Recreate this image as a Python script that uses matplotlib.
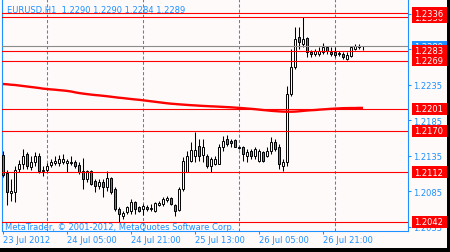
import matplotlib
matplotlib.use('Agg')
import matplotlib.pyplot as plt
from matplotlib.patches import Rectangle
import numpy as np

# ---------------- data ----------------
opens = [1.2136, 1.2111, 1.2083, 1.2084, 1.2117, 1.2124, 1.2138, 1.2119, 1.2126, 1.2135,
         1.2115, 1.2115, 1.2122, 1.2125, 1.2125, 1.2126, 1.2125, 1.2126, 1.2126, 1.2122,
         1.2114, 1.2102, 1.2114, 1.2100, 1.2093, 1.2098, 1.2091, 1.2104, 1.2088, 1.2060,
         1.2050, 1.2056, 1.2057, 1.2070, 1.2063, 1.2060, 1.2063, 1.2060, 1.2057, 1.2066,
         1.2067, 1.2073, 1.2076, 1.2066, 1.2059, 1.2088, 1.2112, 1.2128, 1.2135, 1.2149,
         1.2136, 1.2135, 1.2121, 1.2124, 1.2124, 1.2147, 1.2159, 1.2156, 1.2157, 1.2147,
         1.2147, 1.2135, 1.2142, 1.2135, 1.2128, 1.2140, 1.2135, 1.2142, 1.2155, 1.2147,
         1.2121, 1.2126, 1.2222, 1.2260, 1.2302, 1.2292, 1.2301, 1.2281, 1.2278, 1.2278,
         1.2281, 1.2288, 1.2281, 1.2281, 1.2280, 1.2278, 1.2271, 1.2276, 1.2285, 1.2288,
         1.2290]
highs = [1.2142, 1.2115, 1.2102, 1.2121, 1.2129, 1.2145, 1.2140, 1.2135, 1.2140, 1.2139,
         1.2121, 1.2125, 1.2131, 1.2135, 1.2136, 1.2138, 1.2131, 1.2135, 1.2129, 1.2126,
         1.2132, 1.2115, 1.2115, 1.2102, 1.2102, 1.2102, 1.2114, 1.2105, 1.2091, 1.2063,
         1.2057, 1.2064, 1.2074, 1.2071, 1.2064, 1.2067, 1.2066, 1.2067, 1.2070, 1.2071,
         1.2077, 1.2079, 1.2077, 1.2067, 1.2091, 1.2133, 1.2142, 1.2155, 1.2169, 1.2159,
         1.2159, 1.2138, 1.2133, 1.2135, 1.2152, 1.2163, 1.2164, 1.2159, 1.2159, 1.2149,
         1.2149, 1.2145, 1.2145, 1.2147, 1.2145, 1.2142, 1.2147, 1.2162, 1.2159, 1.2152,
         1.2131, 1.2233, 1.2285, 1.2316, 1.2316, 1.2330, 1.2302, 1.2284, 1.2285, 1.2288,
         1.2294, 1.2290, 1.2288, 1.2288, 1.2283, 1.2281, 1.2281, 1.2290, 1.2292, 1.2292,
         1.2290]
lows = [1.2105, 1.2066, 1.2071, 1.2070, 1.2112, 1.2117, 1.2117, 1.2115, 1.2121, 1.2111,
        1.2107, 1.2112, 1.2119, 1.2122, 1.2121, 1.2124, 1.2112, 1.2122, 1.2118, 1.2109,
        1.2088, 1.2098, 1.2094, 1.2084, 1.2088, 1.2077, 1.2086, 1.2081, 1.2057, 1.2042,
        1.2046, 1.2053, 1.2053, 1.2053, 1.2056, 1.2052, 1.2057, 1.2057, 1.2056, 1.2064,
        1.2064, 1.2070, 1.2066, 1.2050, 1.2057, 1.2086, 1.2112, 1.2126, 1.2126, 1.2128,
        1.2126, 1.2118, 1.2112, 1.2122, 1.2124, 1.2142, 1.2149, 1.2147, 1.2147, 1.2145,
        1.2128, 1.2126, 1.2131, 1.2131, 1.2126, 1.2126, 1.2133, 1.2138, 1.2142, 1.2117,
        1.2114, 1.2121, 1.2219, 1.2257, 1.2285, 1.2288, 1.2274, 1.2274, 1.2276, 1.2276,
        1.2278, 1.2278, 1.2276, 1.2274, 1.2276, 1.2271, 1.2270, 1.2274, 1.2284, 1.2285,
        1.2284]
closes = [1.2108, 1.2084, 1.2086, 1.2115, 1.2124, 1.2135, 1.2121, 1.2126, 1.2135, 1.2114,
          1.2114, 1.2121, 1.2126, 1.2128, 1.2131, 1.2131, 1.2128, 1.2125, 1.2121, 1.2112,
          1.2102, 1.2114, 1.2095, 1.2093, 1.2098, 1.2091, 1.2104, 1.2084, 1.2060, 1.2053,
          1.2055, 1.2063, 1.2070, 1.2060, 1.2057, 1.2064, 1.2060, 1.2062, 1.2069, 1.2069,
          1.2074, 1.2076, 1.2067, 1.2057, 1.2088, 1.2128, 1.2135, 1.2143, 1.2143, 1.2135,
          1.2147, 1.2121, 1.2131, 1.2131, 1.2147, 1.2156, 1.2152, 1.2153, 1.2147, 1.2146,
          1.2138, 1.2140, 1.2135, 1.2145, 1.2142, 1.2128, 1.2142, 1.2155, 1.2145, 1.2124,
          1.2126, 1.2222, 1.2260, 1.2299, 1.2295, 1.2299, 1.2281, 1.2278, 1.2283, 1.2283,
          1.2288, 1.2283, 1.2278, 1.2277, 1.2278, 1.2274, 1.2277, 1.2288, 1.2290, 1.2290,
          1.2289]
ma_values = [1.22361, 1.22357, 1.22351, 1.22347, 1.22340, 1.22333, 1.22326, 1.22319, 1.22312, 1.22305,
             1.22296, 1.22291, 1.22285, 1.22281, 1.22275, 1.22270, 1.22264, 1.22256, 1.22244, 1.22234,
             1.22226, 1.22219, 1.22212, 1.22206, 1.22201, 1.22195, 1.22189, 1.22182, 1.22175, 1.22168,
             1.22163, 1.22156, 1.22150, 1.22144, 1.22139, 1.22132, 1.22125, 1.22118, 1.22111, 1.22104,
             1.22097, 1.22090, 1.22084, 1.22080, 1.22075, 1.22071, 1.22067, 1.22063, 1.22060, 1.22056,
             1.22053, 1.22050, 1.22047, 1.22045, 1.22042, 1.22039, 1.22036, 1.22033, 1.22029, 1.22025,
             1.22021, 1.22016, 1.22012, 1.22007, 1.22001, 1.21995, 1.21990, 1.21984, 1.21980, 1.21976,
             1.21973, 1.21971, 1.21971, 1.21973, 1.21977, 1.21983, 1.21988, 1.21992, 1.21995, 1.22000,
             1.22004, 1.22008, 1.22012, 1.22015, 1.22018, 1.22021, 1.22022, 1.22023, 1.22023, 1.22025,
             1.22025]
red_levels = [1.2330, 1.2336, 1.2283, 1.2269, 1.2201, 1.2170, 1.2112, 1.2042]
bid_level = 1.2289
price_ticks = [1.2035, 1.2085, 1.2135, 1.2185, 1.2235, 1.2285, 1.2335]
price_tick_labels = ['1.2035', '1.2085', '1.2135', '1.2185', '1.2235', '', '']
time_tick_bars = [0, 16, 32, 48, 64, 80]
time_tick_labels = ['23 Jul 2012', '24 Jul 05:00', '24 Jul 21:00',
                    '25 Jul 13:00', '26 Jul 05:00', '26 Jul 21:00']
day_separator_bars = [11, 35, 59, 83]
title_text = 'EURUSD,H1  1.2290 1.2290 1.2284 1.2289'
copyright_text = 'MetaTrader, \u00a9 2001-2012, MetaQuotes Software Corp.'

# ---------------- style ----------------
BG = '#FFFAFA'
BLUE = '#1E90FF'
RED = '#FF0000'
GRAY = '#8C8C8C'
W, H = 450, 253
plt.rcParams['font.family'] = ['DejaVu Sans']
FS = 6

fig = plt.figure(figsize=(W / 100, H / 100), dpi=100, facecolor=BG)
ax = fig.add_axes([2 / W, (H - 232) / H, 406 / W, 232 / H])
ax.set_facecolor(BG)
ax.set_xlim(-0.25, 101.25)
ax.set_ylim(1.20293, 1.23557)

# spines
for s in ['left', 'right', 'bottom']:
    ax.spines[s].set_color(BLUE)
    ax.spines[s].set_linewidth(0.8)
ax.spines['top'].set_visible(False)

# day separators
for b in day_separator_bars:
    ax.axvline(b, color=BLUE, lw=0.75, ls=(0, (3, 2)), zorder=1)

# candles
x = np.arange(len(opens))
o = np.array(opens)
c = np.array(closes)
up = c >= o
ax.vlines(x, lows, highs, color='black', lw=0.75, zorder=3)
ax.bar(x[up], (c - o)[up], bottom=o[up], width=0.55, color=BG,
       edgecolor='black', lw=0.7, zorder=4)
ax.bar(x[~up], (o - c)[~up], bottom=c[~up], width=0.55, color=BLUE,
       edgecolor='black', lw=0.7, zorder=4)

# moving average
ax.plot(x, ma_values, color=RED, lw=1.7, zorder=5, solid_capstyle='butt')

# horizontal levels
ax.axhline(bid_level, color=GRAY, lw=0.8, zorder=6)
for v in red_levels:
    ax.axhline(v, color=RED, lw=0.8, zorder=6)

# price axis
ax.yaxis.tick_right()
ax.set_yticks(price_ticks)
ax.set_yticklabels(price_tick_labels)
ax.tick_params(axis='y', colors=BLUE, length=2.2, width=0.75, labelsize=FS, pad=1.5)

# time axis
ax.set_xticks(time_tick_bars)
ax.set_xticklabels(time_tick_labels)
ax.tick_params(axis='x', colors=BLUE, length=2.2, width=0.75, labelsize=FS, pad=0.8)
for lab in ax.get_xticklabels():
    lab.set_ha('left')

# price label boxes (each later box drawn above earlier ones)
ytr = ax.get_yaxis_transform()
bx0 = (412 - 2) / 406
bw = 35 / 406
bh = 5.8 * (1.23557 - 1.20293) / 232
z = [10]


def price_box(v, face):
    ax.add_patch(Rectangle((bx0, v - bh), bw, 2 * bh, transform=ytr, facecolor=face,
                           edgecolor='none', clip_on=False, zorder=z[0]))
    ax.text((414 - 2) / 406, v, f'{v:.4f}', transform=ytr, color='white', fontsize=FS,
            va='center', ha='left', clip_on=False, zorder=z[0] + 1)
    z[0] += 2


price_box(bid_level, BLUE)
for v in red_levels:
    price_box(v, RED)

# texts
ax.text((7 - 2) / 406, (232 - 10) / 232, title_text, transform=ax.transAxes,
        color=BLUE, fontsize=FS, va='center', ha='left', zorder=40)
ax.text((5 - 2) / 406, (232 - 228) / 232, copyright_text, transform=ax.transAxes,
        color=BLUE, fontsize=FS, va='center', ha='left', zorder=40)

# dark frame on right and bottom edges
fig.patches.append(Rectangle((447 / W, 0), 3 / W, 1, transform=fig.transFigure,
                             facecolor='black', edgecolor='none'))
fig.patches.append(Rectangle((0, 0), 1, 4 / H, transform=fig.transFigure,
                             facecolor='black', edgecolor='none'))

fig.savefig('out.png', dpi=100, facecolor=BG)
